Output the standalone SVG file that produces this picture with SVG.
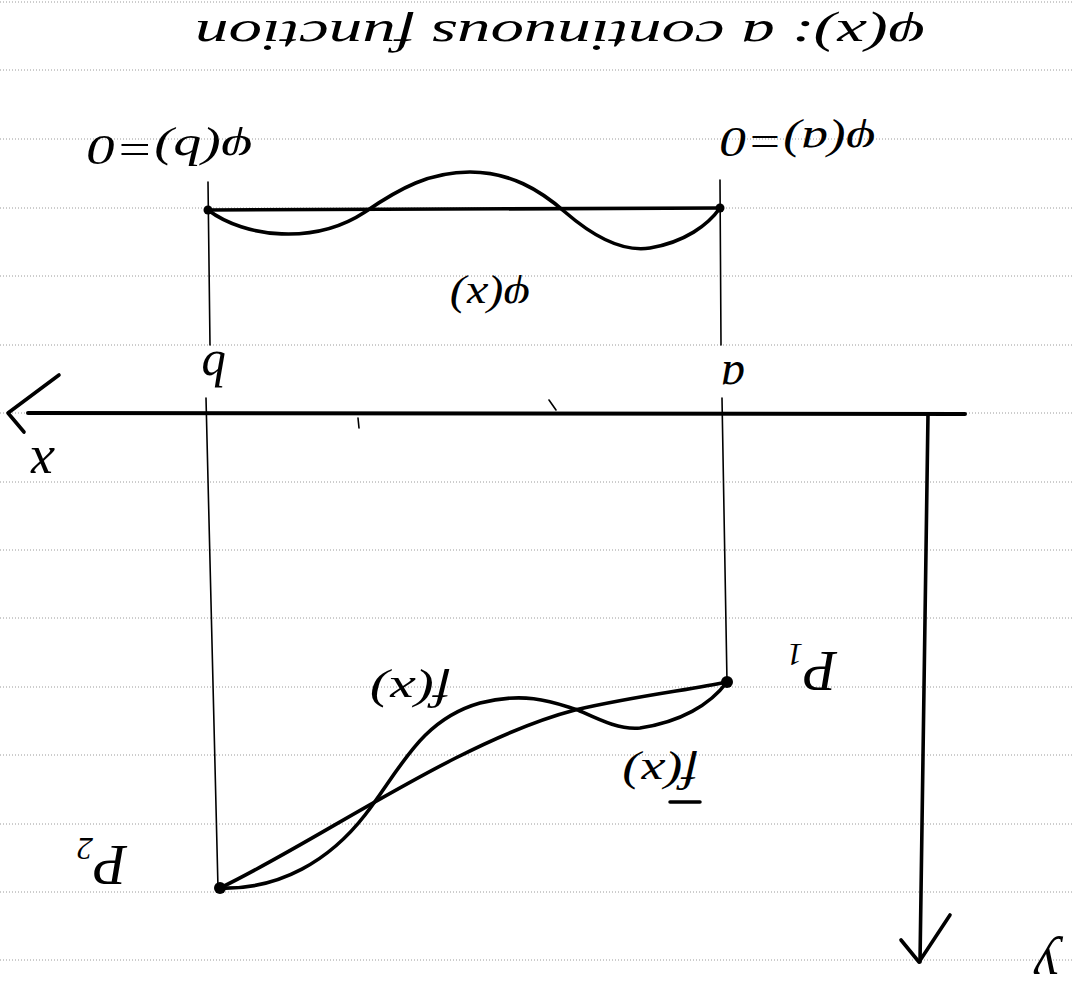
<svg xmlns="http://www.w3.org/2000/svg" width="1072" height="1001" viewBox="0 0 1072 1001">
<style>
.rule{stroke:#9a9a9a;stroke-width:1;stroke-dasharray:1 2;fill:none}
.ink{stroke:#000;fill:none;stroke-linecap:round;stroke-linejoin:round}
.thick{stroke-width:3.6}
.axis{stroke-width:4}
.thin{stroke-width:1.6}
.lbl{font-family:"Liberation Serif","DejaVu Serif",serif;font-style:italic;fill:#000;text-anchor:middle}
</style>
<rect width="1072" height="1001" fill="#fff"/>
<g id="rules">
<line class="rule" x1="0" y1="2" x2="1072" y2="2"/>
<line class="rule" x1="0" y1="70" x2="1072" y2="70"/>
<line class="rule" x1="0" y1="139" x2="1072" y2="139"/>
<line class="rule" x1="0" y1="208" x2="1072" y2="208"/>
<line class="rule" x1="0" y1="276" x2="1072" y2="276"/>
<line class="rule" x1="0" y1="345" x2="1072" y2="345"/>
<line class="rule" x1="0" y1="413" x2="1072" y2="413"/>
<line class="rule" x1="0" y1="482" x2="1072" y2="482"/>
<line class="rule" x1="0" y1="550" x2="1072" y2="550"/>
<line class="rule" x1="0" y1="618" x2="1072" y2="618"/>
<line class="rule" x1="0" y1="687" x2="1072" y2="687"/>
<line class="rule" x1="0" y1="755" x2="1072" y2="755"/>
<line class="rule" x1="0" y1="824" x2="1072" y2="824"/>
<line class="rule" x1="0" y1="892" x2="1072" y2="892"/>
<line class="rule" x1="0" y1="960" x2="1072" y2="960"/>
</g>
<g id="connectors">
<path class="ink axis" d="M28,413 L965,414"/>
<path class="ink thick" d="M59,375 L8,413 L24,432"/>
<path class="ink thick" d="M928,414 L920,962"/>
<path class="ink thick" d="M901,940 L919,962 L950,915"/>
<path class="ink thin" d="M208,182 L210,345"/>
<path class="ink thin" d="M206,398 L218,888"/>
<path class="ink thin" d="M720,180 L721,345"/>
<path class="ink thin" d="M722,398 L727,682"/>
<path class="ink thin" d="M358,418 L359,428"/>
<path class="ink thin" d="M549,400 L556,410"/>
<path class="ink thick" d="M208,210 L720,208"/>
<path class="ink thick" d="M208,210 C245,238 315,245 365,212 C400,188 430,172 470,172 C510,172 540,190 565,212 C595,238 625,252 650,248 C685,242 708,225 720,208"/>
<path class="ink thick" d="M220,888 C320,840 460,740 575,710 C640,695 690,690 727,682"/>
<path class="ink thick" d="M220,888 C280,890 330,860 365,815 C400,770 420,720 480,703 C530,690 560,705 578,710 C600,720 620,730 640,728 C680,722 710,705 727,682"/>
</g>
<g id="point-phi-b"><circle cx="208" cy="210" r="4.5"/></g>
<g id="point-phi-a"><circle cx="720" cy="208" r="4.5"/></g>
<g id="point-P1"><circle cx="727" cy="682" r="6"/></g>
<g id="point-P2"><circle cx="220" cy="888" r="6"/></g>
<g id="title" transform="rotate(180 560 33)"><text class="lbl" x="560" y="45" font-size="44" textLength="730" lengthAdjust="spacingAndGlyphs">φ(x): a continuous function</text></g>
<g id="label-phi-b" transform="rotate(180 170 148)"><text class="lbl" x="170" y="160" font-size="42" textLength="165" lengthAdjust="spacingAndGlyphs">φ(b)=0</text></g>
<g id="label-phi-a" transform="rotate(180 798 140)"><text class="lbl" x="798" y="152" font-size="42" textLength="155" lengthAdjust="spacingAndGlyphs">φ(a)=0</text></g>
<g id="label-phi-x" transform="rotate(180 490 296)"><text class="lbl" x="490" y="308" font-size="42" textLength="80" lengthAdjust="spacingAndGlyphs">φ(x)</text></g>
<g id="label-b" transform="rotate(180 214 366)"><text class="lbl" x="214" y="380" font-size="50">b</text></g>
<g id="label-a" transform="rotate(180 733 374)"><text class="lbl" x="733" y="386" font-size="48">a</text></g>
<g id="label-x" transform="rotate(180 42 460)"><text class="lbl" x="42" y="472" font-size="54">x</text></g>
<g id="label-y" transform="rotate(180 1046 960)"><text class="lbl" x="1046" y="972" font-size="56">y</text></g>
<g id="label-P1" transform="rotate(180 812 672)"><text class="lbl" x="812" y="692" font-size="56">P<tspan font-size="32" dy="8">1</tspan></text></g>
<g id="label-P2" transform="rotate(180 102 866)"><text class="lbl" x="102" y="886" font-size="56">P<tspan font-size="32" dy="8">2</tspan></text></g>
<g id="label-fx" transform="rotate(180 410 690)"><text class="lbl" x="410" y="702" font-size="42" textLength="80" lengthAdjust="spacingAndGlyphs">f(x)</text></g>
<g id="label-fbar" transform="rotate(180 660 772)"><text class="lbl" x="660" y="784" font-size="42" textLength="75" lengthAdjust="spacingAndGlyphs">f(x)</text><line class="ink" stroke-width="3.5" x1="620" y1="742" x2="650" y2="742"/></g>
</svg>
